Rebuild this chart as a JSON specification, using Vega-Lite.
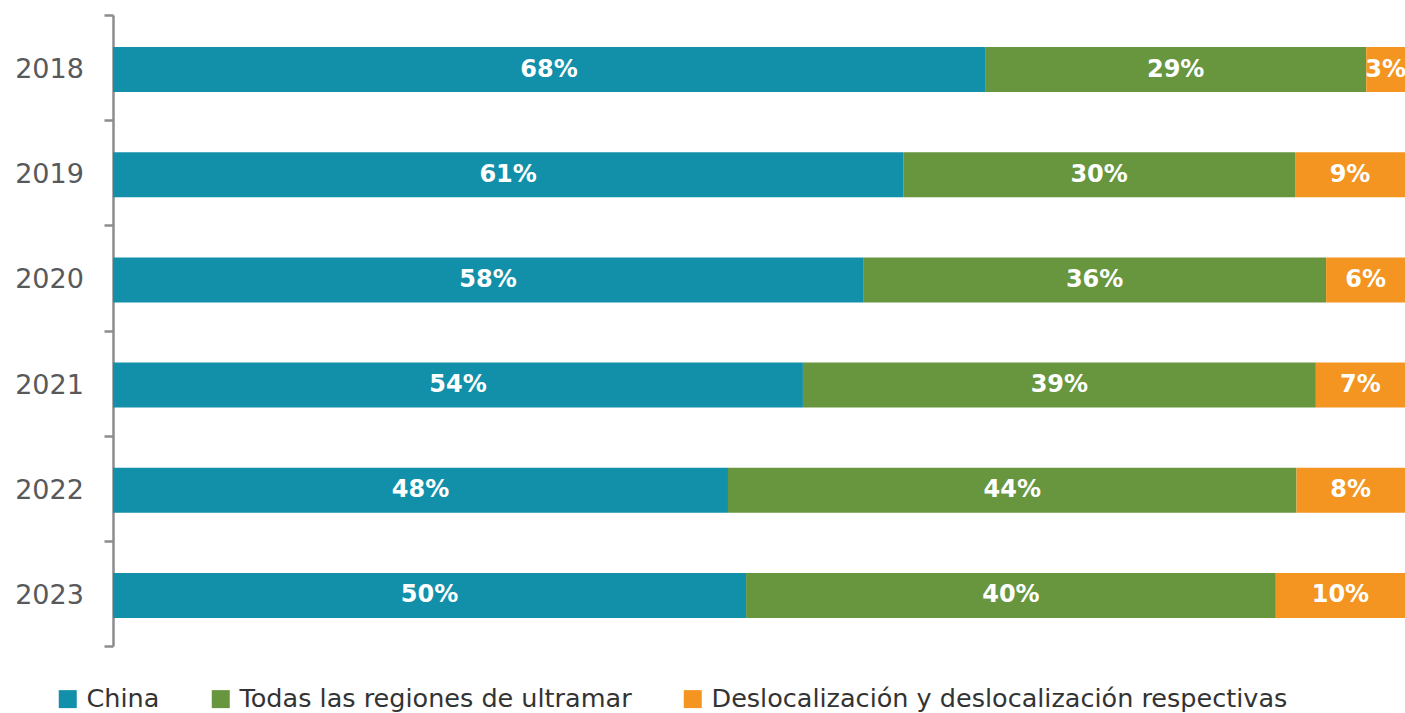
{
  "$schema": "https://vega.github.io/schema/vega-lite/v6.json",
  "width": 1292,
  "height": 631,
  "autosize": {"type": "none"},
  "padding": {"left": 113, "top": 15, "right": 0, "bottom": 67},
  "background": "white",
  "config": {"view": {"stroke": null}, "font": "DejaVu Sans"},
  "data": {
    "values": [
      {"year": "2018", "category": "China", "order": 1, "value": 67.5, "label": "68%"},
      {"year": "2018", "category": "Todas las regiones de ultramar", "order": 2, "value": 29.5, "label": "29%"},
      {"year": "2018", "category": "Deslocalización y deslocalización respectivas", "order": 3, "value": 3.0, "label": "3%"},
      {"year": "2019", "category": "China", "order": 1, "value": 61.1, "label": "61%"},
      {"year": "2019", "category": "Todas las regiones de ultramar", "order": 2, "value": 30.3, "label": "30%"},
      {"year": "2019", "category": "Deslocalización y deslocalización respectivas", "order": 3, "value": 8.5, "label": "9%"},
      {"year": "2020", "category": "China", "order": 1, "value": 58.0, "label": "58%"},
      {"year": "2020", "category": "Todas las regiones de ultramar", "order": 2, "value": 35.8, "label": "36%"},
      {"year": "2020", "category": "Deslocalización y deslocalización respectivas", "order": 3, "value": 6.1, "label": "6%"},
      {"year": "2021", "category": "China", "order": 1, "value": 53.4, "label": "54%"},
      {"year": "2021", "category": "Todas las regiones de ultramar", "order": 2, "value": 39.7, "label": "39%"},
      {"year": "2021", "category": "Deslocalización y deslocalización respectivas", "order": 3, "value": 6.9, "label": "7%"},
      {"year": "2022", "category": "China", "order": 1, "value": 47.6, "label": "48%"},
      {"year": "2022", "category": "Todas las regiones de ultramar", "order": 2, "value": 44.0, "label": "44%"},
      {"year": "2022", "category": "Deslocalización y deslocalización respectivas", "order": 3, "value": 8.4, "label": "8%"},
      {"year": "2023", "category": "China", "order": 1, "value": 49.0, "label": "50%"},
      {"year": "2023", "category": "Todas las regiones de ultramar", "order": 2, "value": 41.0, "label": "40%"},
      {"year": "2023", "category": "Deslocalización y deslocalización respectivas", "order": 3, "value": 10.0, "label": "10%"}
    ]
  },
  "transform": [
    {"stack": "value", "groupby": ["year"], "as": ["x0", "x1"], "offset": "normalize", "sort": [{"field": "order", "order": "ascending"}]},
    {"calculate": "(datum.x0 + datum.x1) / 2", "as": "xm"}
  ],
  "encoding": {
    "y": {
      "field": "year",
      "type": "nominal",
      "title": null,
      "scale": {"paddingInner": 0, "paddingOuter": 0},
      "axis": {
        "tickBand": "extent",
        "domainColor": "#8C8C91",
        "domainWidth": 2.5,
        "tickColor": "#8C8C91",
        "tickWidth": 2.5,
        "tickSize": 9,
        "labelFontSize": 27,
        "labelFontWeight": 500,
        "labelColor": "#58595B",
        "labelAlign": "center",
        "labelPadding": 55,
        "labelFont": "DejaVu Sans",
        "labelOffset": 2
      }
    }
  },
  "layer": [
    {
      "mark": {"type": "bar", "height": 45, "yOffset": 2},
      "encoding": {
        "x": {"field": "x0", "type": "quantitative", "scale": {"domain": [0, 1], "nice": false, "zero": true}, "axis": null},
        "x2": {"field": "x1"},
        "color": {
          "field": "category",
          "type": "nominal",
          "scale": {
            "domain": ["China", "Todas las regiones de ultramar", "Deslocalización y deslocalización respectivas"],
            "range": ["#1390A9", "#67963F", "#F39520"]
          },
          "legend": {
            "orient": "none",
            "legendX": -58,
            "legendY": 671,
            "direction": "horizontal",
            "columns": 3,
            "title": null,
            "symbolType": "square",
            "symbolSize": 324,
            "symbolStrokeWidth": 0,
            "labelFontSize": 25.5,
            "labelColor": "#333333",
            "labelFont": "DejaVu Sans",
            "labelOffset": 6,
            "columnPadding": 48,
            "labelLimit": 800
          }
        }
      }
    },
    {
      "mark": {"type": "text", "color": "white", "fontSize": 24, "fontWeight": "bold", "font": "DejaVu Sans", "baseline": "middle", "align": "center", "yOffset": 2},
      "encoding": {
        "x": {"field": "xm", "type": "quantitative"},
        "text": {"field": "label", "type": "nominal"}
      }
    }
  ]
}
